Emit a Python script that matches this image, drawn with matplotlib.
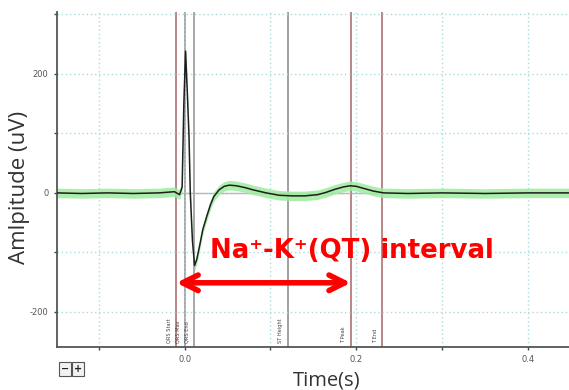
import numpy as np
from matplotlib import pyplot as plt
from matplotlib.ticker import MultipleLocator

plt.rcParams['axes.unicode_minus'] = False

# averaged beat (time in s, amplitude in uV)
time_s = [-0.149, -0.12, -0.09, -0.06, -0.03, -0.012, -0.006, -0.003, -0.001,
          0.001, 0.003, 0.005, 0.0065, 0.009, 0.0115, 0.014, 0.0175, 0.021,
          0.026, 0.030, 0.034, 0.040, 0.046, 0.052, 0.060, 0.070, 0.080,
          0.095, 0.110, 0.125, 0.140, 0.155, 0.165, 0.175, 0.185, 0.193,
          0.200, 0.210, 0.220, 0.232, 0.260, 0.300, 0.350, 0.400, 0.448]
amplitude = [0, -1, 0, -1, 0, 2, -3, 10, 150,
             238, 170, 95, 0, -80, -122, -112, -88, -62,
             -38, -20, -6, 5, 11, 13, 12, 9, 5,
             0, -4, -5, -5, -3, 1, 6, 10, 12,
             11, 7, 3, 0, -1, 0, -1, 0, 0]
band = 8

marker_names = ['QRS Start', 'QRS Max', 'QRS End', 'ST Height', 'T Peak', 'T End']
marker_times = [-0.0097, 0.0, 0.0105, 0.120, 0.1936, 0.230]
marker_colors = ['#b98585', '#a8a8a8', '#a8a8a8', '#a0a0a0', '#b98585', '#b98585']

x_ticks = [0.0, 0.2, 0.4]
y_ticks = [-200, 0, 200]

interval_label = 'Na\u207a-K\u207a(QT) interval'
interval_start = -0.0097
interval_end = 0.1936

fig = plt.figure(figsize=(5.69, 3.9), dpi=100)
ax = fig.add_axes([0.100, 0.110, 0.900, 0.858])

t = np.array(time_s)
a = np.array(amplitude)
ax.fill_between(t, a - band, a + band, color='#9fec9f', alpha=0.85, lw=0, zorder=2)
ax.plot(t, a, color='#1e1e1e', lw=1.1, zorder=3)

ax.hlines(0, marker_times[0], marker_times[-1], color='#b0b0b0', lw=1, zorder=1)
for name, mt, c in zip(marker_names, marker_times, marker_colors):
    ax.axvline(mt, color=c, lw=1.4, zorder=1)
    ax.annotate(name, xy=(mt, 0.012), xycoords=('data', 'axes fraction'),
                xytext=(-5, 0), textcoords='offset points',
                rotation=90, ha='center', va='bottom', fontsize=3.6,
                color='#444444')

ax.annotate('', xy=(interval_start, -151), xytext=(interval_end, -151),
            arrowprops=dict(arrowstyle='<->', color='#ff0000', lw=4,
                            mutation_scale=28, shrinkA=0, shrinkB=0),
            zorder=5)
ax.text(0.029, -109, interval_label, color='#ff0000', fontsize=18.7,
        fontweight='bold', ha='left', va='baseline', zorder=5)

ax.set_xlim(-0.149, 0.448)
ax.set_ylim(-259, 303)
ax.set_xticks(x_ticks)
ax.set_yticks(y_ticks)
ax.set_xticklabels(['%.1f' % v for v in x_ticks])
ax.xaxis.set_minor_locator(MultipleLocator(0.1))
ax.yaxis.set_minor_locator(MultipleLocator(100))
ax.grid(which='both', color='#a8dcdc', ls=(0, (1, 2)), lw=1)
ax.tick_params(which='both', length=2, width=1, color='#444444',
               labelsize=6, labelcolor='#555555', pad=4)

for side in ['top', 'right']:
    ax.spines[side].set_visible(False)
for side in ['left', 'bottom']:
    ax.spines[side].set_color('#555555')
    ax.spines[side].set_linewidth(1.3)

ax.set_ylabel('Amlpitude (uV)', fontsize=16, family='Open Sans', color='#333333')
ax.set_xlabel('Time(s)', fontsize=14.5, family='Open Sans', color='#333333')
ax.xaxis.label.set_va('center')
ax.yaxis.set_label_coords(-0.053, 0.477)
ax.xaxis.set_label_coords(0.527, -0.099)

# little zoom buttons under the plot
for xpos, s in [(0.114, '\u2212'), (0.137, '+')]:
    fig.text(xpos, 0.054, s, fontsize=7, fontweight='bold', ha='center',
             va='center', color='#222222',
             bbox=dict(boxstyle='square,pad=0.2', fc='#f2f2f2', ec='#555555', lw=0.8))

plt.savefig('out.png')
